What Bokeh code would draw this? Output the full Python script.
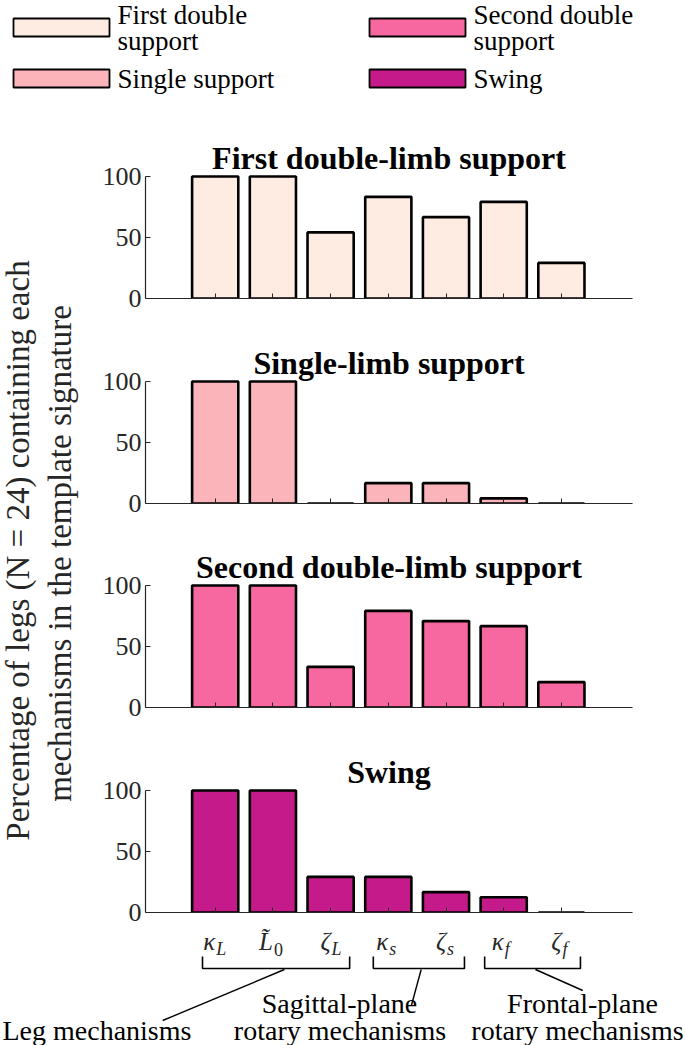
import math
from bokeh.plotting import figure
from bokeh.layouts import column, row
from bokeh.models import Range1d, FixedTicker, ColumnDataSource
from bokeh.core.properties import value
from bokeh.embed import file_html
from bokeh.resources import INLINE

# ---------------- data ----------------
mechanism_pos = [1, 2, 3, 4, 5, 6, 7]
tick_main = ["\u03ba", "L\u0303", "\u03b6", "\u03ba", "\u03b6", "\u03ba", "\u03b6"]
tick_sub = ["L", "0", "L", "s", "s", "f", "f"]
tick_sub_style = ["italic", "normal", "italic", "italic", "italic", "italic", "italic"]
phases = ["First double-limb support", "Single-limb support",
          "Second double-limb support", "Swing"]
legend_lines = [["First double", "support"], ["Single support"],
                ["Second double", "support"], ["Swing"]]
colors = ["#feebe2", "#fbb4b9", "#f768a1", "#c51b8a"]
first_double = [100, 100, 54.2, 83.3, 66.7, 79.2, 29.2]
single_support = [100, 100, 0, 16.7, 16.7, 4.2, 0]
second_double = [100, 100, 33.3, 79.2, 70.8, 66.7, 20.8]
swing = [100, 100, 29.2, 29.2, 16.7, 12.5, 0]
series = [first_double, single_support, second_double, swing]
y_ticks = [0, 50, 100]
y_label_lines = ["Percentage of legs (N = 24) containing each",
                 "mechanisms in the template signature"]
group_top = ["Sagittal-plane", "Frontal-plane"]
group_bottom = ["Leg mechanisms", "rotary mechanisms", "rotary mechanisms"]

# ---------------- geometry (pixels) ----------------
W, H = 685, 1045
FONT = value("Liberation Serif")
AX = "#262626"

leg_h = 128
tops = [128, 333, 537, 742, 927]
y100 = [176, 380.7, 585.4, 790.1]
WL = 80
fl, fr = 145, 632
bar1, step = 214.7, 57.7
x_start = 1 - (bar1 - fl) / step
x_end = 1 + (fr - bar1) / step
unit_px = 1.22
PW = W - WL


def xdata(abs_px):
    return x_start + (abs_px - fl) / step


def clean(p):
    p.xgrid.visible = False
    p.ygrid.visible = False
    p.outline_line_color = None
    p.background_fill_color = "white"
    p.border_fill_color = "white"


# ---------------- legend ----------------
lg = figure(width=W, height=leg_h, x_range=Range1d(0, W),
            y_range=Range1d(-leg_h, 0), min_border=0,
            toolbar_location=None, output_backend="svg")
clean(lg)
lg.axis.visible = False
pos_col = [0, 0, 1, 1]
pos_row = [0, 1, 0, 1]
LFS = 27
for k in range(4):
    x0 = [13, 369][pos_col[k]]
    yc = [27, 78][pos_row[k]]
    lg.quad(left=[x0], right=[x0 + 96], top=[-(yc - 9)], bottom=[-(yc + 9)],
            fill_color=colors[k], line_color="black", line_width=1.8)
    lines = legend_lines[k]
    if len(lines) == 2:
        ys = [-(yc - 13), -(yc + 13)]
    else:
        ys = [-yc]
    lg.text(x=[x0 + 104] * len(lines), y=ys, text=lines, text_font=FONT,
            text_font_size=value("%dpx" % LFS), text_align="left",
            text_baseline="middle", text_color="black")

# ---------------- y label ----------------
yl = figure(width=WL, height=tops[4] - tops[0], x_range=Range1d(0, WL),
            y_range=Range1d(-tops[4], -tops[0]), min_border=0,
            toolbar_location=None, output_backend="svg")
clean(yl)
yl.axis.visible = False
yl.text(x=[17, 59], y=[-550, -553], text=y_label_lines, angle=math.pi / 2,
        text_font=FONT, text_font_size=value("33px"), text_align="center",
        text_baseline="middle", text_color=AX)

# ---------------- panels ----------------
panels = []
for i in range(4):
    h = tops[i + 1] - tops[i]
    frame_h = round(y100[i] + 122 - tops[i])
    y_end = frame_h / unit_px
    p = figure(width=PW, height=h, x_range=Range1d(x_start, x_end),
               y_range=Range1d(0, y_end),
               min_border_left=fl - WL, min_border_right=PW - (fl - WL) - (fr - fl),
               min_border_top=0, min_border_bottom=h - frame_h,
               toolbar_location=None, output_backend="svg")
    clean(p)
    src = ColumnDataSource(dict(x=mechanism_pos, top=series[i]))
    p.vbar(x="x", top="top", width=0.8, source=src, fill_color=colors[i],
           line_color="black", line_width=2.6)
    p.text(x=[(x_start + x_end) / 2], y=[100 + 18.5 / unit_px], text=[phases[i]],
           text_font=FONT, text_font_style="bold", text_font_size=value("32px"),
           text_align="center", text_baseline="middle", text_color="black")
    ya = p.yaxis[0]
    ya.ticker = FixedTicker(ticks=y_ticks)
    ya.bounds = (0, 100)
    ya.major_tick_in = 5
    ya.major_tick_out = 0
    ya.minor_tick_line_color = None
    ya.axis_line_color = AX
    ya.major_tick_line_color = AX
    ya.axis_line_width = 1.2
    ya.major_label_text_font = "Liberation Serif"
    ya.major_label_text_font_size = "26px"
    ya.major_label_text_color = AX
    ya.major_label_standoff = 4
    xa = p.xaxis[0]
    xa.ticker = FixedTicker(ticks=mechanism_pos)
    xa.major_tick_in = 5
    xa.major_tick_out = 0
    xa.minor_tick_line_color = None
    xa.axis_line_color = AX
    xa.major_tick_line_color = AX
    xa.axis_line_width = 1.2
    xa.major_label_text_font_size = "0px"
    xa.major_label_text_color = None
    xa.major_label_standoff = 0
    panels.append(p)

# ---------------- bottom annotations ----------------
bf = figure(width=W, height=H - tops[4], x_range=Range1d(xdata(0), xdata(W)),
            y_range=Range1d(-H, -tops[4]), min_border=0,
            toolbar_location=None, output_backend="svg")
clean(bf)
bf.axis.visible = False
tsrc = ColumnDataSource(dict(x=mechanism_pos, main=tick_main, sub=tick_sub,
                             style=tick_sub_style))
bf.text(x="x", y=-941, text="main", source=tsrc, x_offset=0, text_font=FONT,
        text_font_style="italic", text_font_size=value("25px"), text_align="right",
        text_baseline="middle", text_color=AX)
bf.text(x="x", y=-948.5, text="sub", source=tsrc, x_offset=1, text_font=FONT,
        text_font_style="style", text_font_size=value("18px"), text_align="left",
        text_baseline="middle", text_color=AX)

bracket_l = [0.78, 3.74, 5.67]
bracket_r = [3.33, 5.32, 7.33]
bf.multi_line(xs=[[l, l, r, r] for l, r in zip(bracket_l, bracket_r)],
              ys=[[-956, -968, -968, -956]] * 3, line_color="black", line_width=1.6)
conn_x0 = [2.20, 4.57, 6.55]
conn_x1 = [0.09, 4.40, 7.37]
conn_y1 = [-1020, -1005, -990]
bf.segment(x0=conn_x0, y0=[-969] * 3, x1=conn_x1, y1=conn_y1,
           line_color="black", line_width=1.4)
bf.text(x=[xdata(2)], y=[-1029.5], text=[group_bottom[0]], text_font=FONT,
        text_font_size=value("28px"), text_align="left", text_baseline="middle",
        text_color="black")
bf.text(x=[xdata(339), xdata(582)], y=[-1002.5, -1002.5],
        text=group_top, text_font=FONT, text_font_size=value("28px"),
        text_align="center", text_baseline="middle", text_color="black")
bf.text(x=[xdata(339.5), xdata(577)], y=[-1029.5, -1029.5],
        text=group_bottom[1:], text_font=FONT, text_font_size=value("28px"),
        text_align="center", text_baseline="middle", text_color="black")

layout = column(lg, row(yl, column(*panels, spacing=0), spacing=0), bf, spacing=0)
open("out.html", "w").write(file_html(layout, INLINE))
